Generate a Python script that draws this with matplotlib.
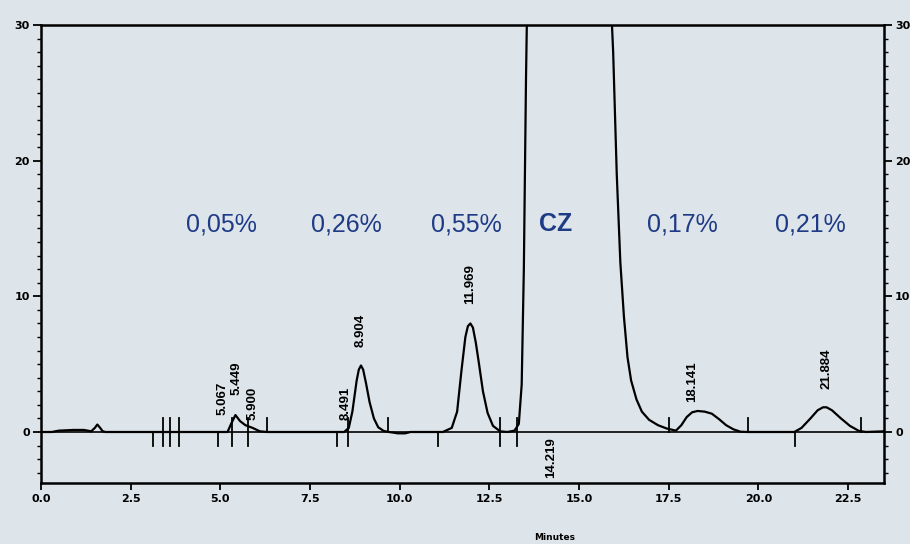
import numpy as np
import matplotlib
matplotlib.use('Agg')
import matplotlib.pyplot as plt
from matplotlib.ticker import MultipleLocator

# Chromatogram trace (minutes, signal)
trace_t = [0.0, 0.3, 0.5, 0.9, 1.2, 1.4, 1.5, 1.57, 1.65, 1.72, 1.8, 3.0,
           5.2, 5.3, 5.42, 5.55, 5.7, 5.9, 6.1, 6.3,
           8.45, 8.58, 8.68, 8.8, 8.86, 8.92, 8.98, 9.06, 9.16, 9.28, 9.4, 9.55, 9.7, 9.95, 10.15, 10.3,
           11.2, 11.45, 11.6, 11.72, 11.83, 11.9, 11.97, 12.04, 12.12, 12.2, 12.32, 12.45, 12.6, 12.8, 13.0,
           13.2, 13.32, 13.4, 13.46, 13.52, 13.6, 14.2, 15.2, 15.85, 15.95, 16.05, 16.15,
           16.25, 16.35, 16.45, 16.6, 16.75, 16.95, 17.2, 17.45, 17.7,
           17.85, 18.0, 18.15, 18.3, 18.5, 18.7, 18.9, 19.1, 19.3, 19.5, 19.7,
           21.0, 21.2, 21.45, 21.65, 21.8, 21.9, 22.05, 22.3, 22.55, 22.8, 23.0, 23.5]
trace_y = [0.0, 0.0, 0.1, 0.15, 0.15, 0.05, 0.3, 0.55, 0.3, 0.05, 0.0, 0.0,
           0.0, 0.6, 1.25, 0.8, 0.5, 0.3, 0.05, 0.0,
           0.0, 0.3, 1.5, 3.8, 4.6, 4.9, 4.6, 3.6, 2.2, 1.0, 0.35, 0.08, 0.0, -0.1, -0.1, 0.0,
           0.0, 0.3, 1.5, 4.5, 7.0, 7.8, 8.0, 7.7, 6.6, 5.2, 3.0, 1.4, 0.45, 0.05, 0.0,
           0.1, 0.6, 3.5, 12.0, 26.0, 40.0, 48.0, 45.0, 34.0, 28.0, 19.0, 12.5,
           8.5, 5.5, 3.8, 2.4, 1.5, 0.9, 0.5, 0.25, 0.1,
           0.5, 1.1, 1.45, 1.55, 1.5, 1.35, 0.95, 0.5, 0.2, 0.02, 0.0,
           0.0, 0.3, 1.0, 1.6, 1.82, 1.82, 1.6, 1.0, 0.45, 0.08, 0.0, 0.05]

# integration event marks: time and direction
event_t = [3.12, 3.40, 3.59, 3.84, 4.93, 5.32, 5.77, 6.30, 8.24, 8.55, 9.67,
           11.06, 12.79, 13.26, 17.52, 19.72, 21.03, 22.87]
event_kind = ['down', 'both', 'both', 'both', 'down', 'both', 'both', 'up', 'down', 'both', 'up',
              'down', 'both', 'both', 'up', 'up', 'down', 'up']

# retention time labels
rt_labels = ['5.067', '5.449', '5.900', '8.491', '8.904', '11.969', '18.141', '21.884']
rt_label_y = [1.25, 2.7, 0.9, 0.9, 6.3, 9.4, 2.2, 3.2]
below_label = '14.219'

# area percentages
pct_text = ['0,05%', '0,26%', '0,55%', 'CZ', '0,17%', '0,21%']
pct_x = [5.04, 8.5, 11.87, 14.35, 17.88, 21.45]

bg = '#dde4ea'
fig = plt.figure(figsize=(9.1, 5.44), dpi=100, facecolor=bg)
ax = fig.add_axes([41 / 910, 61 / 544, 843 / 910, 458 / 544], facecolor=bg)

ax.plot(trace_t, trace_y, color='black', lw=1.6, solid_joinstyle='round')
ax.axhline(0, color='black', lw=1.2)

for t, k in zip(event_t, event_kind):
    lo = -1.05 if k in ('down', 'both') else 0
    hi = 1.0 if k in ('up', 'both') else 0
    ax.plot([t, t], [lo, hi], color='black', lw=1.3)

for lab, y in zip(rt_labels, rt_label_y):
    ax.text(float(lab), y, lab, rotation=90, ha='center', va='bottom',
            fontsize=9.5, fontweight='bold', family='Liberation Sans')
ax.text(float(below_label), -0.4, below_label, rotation=90, ha='center', va='top',
        fontsize=9.5, fontweight='bold', family='Liberation Sans')

for txt, x in zip(pct_text, pct_x):
    ax.text(x, 15.3, txt, ha='center', va='center', color='#1f3b86',
            fontsize=18, family='Liberation Sans',
            fontweight='bold' if txt == 'CZ' else 'normal')

ax.set_xlim(0, 23.5)
ax.set_ylim(-3.76, 30)
ax.xaxis.set_major_locator(MultipleLocator(2.5))
ax.yaxis.set_major_locator(MultipleLocator(10))
ax.yaxis.set_minor_locator(MultipleLocator(1))
ax.xaxis.set_major_formatter(plt.FuncFormatter(lambda v, p: f'{v:.1f}'))
ax.yaxis.set_ticks_position('both')
ax.tick_params(axis='y', which='both', labelright=True, direction='out')
ax.tick_params(axis='y', which='major', length=6, width=1.3, labelsize=8, pad=2)
ax.tick_params(axis='y', which='minor', length=3, width=1.0)
ax.tick_params(axis='x', length=5, width=1.3, labelsize=8, pad=3)
for lab in ax.get_xticklabels() + ax.get_yticklabels():
    lab.set_fontweight('bold')
for s in ax.spines.values():
    s.set_linewidth(1.8)

fig.text(555 / 910, 1 - 537 / 544, 'Minutes', ha='center', va='center',
         fontsize=6.5, fontweight='bold')

fig.savefig('out.png', dpi=100, facecolor=bg)
